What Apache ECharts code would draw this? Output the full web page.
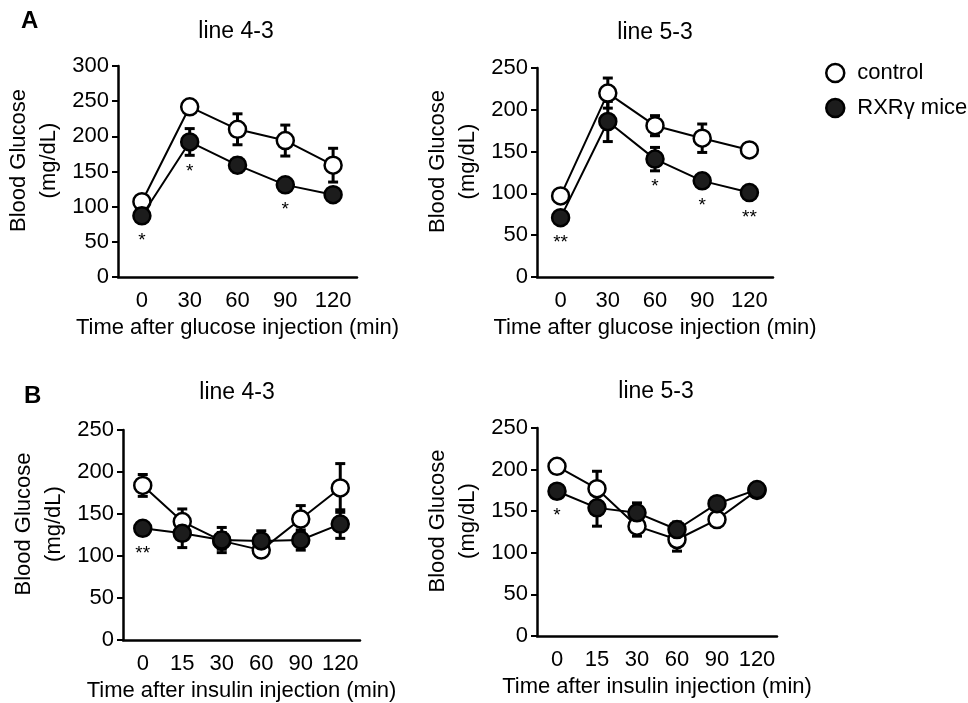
<!DOCTYPE html>
<html>
<head>
<meta charset="utf-8">
<script src="https://cdn.jsdelivr.net/npm/echarts@6/dist/echarts.min.js"></script>
<style>
    html, body { margin: 0; padding: 0; background: #fff; }
    #chart { width: 968px; height: 703px; }
</style>
</head>
<body>
<div id="chart"></div>
<script>
// time points
const glucoseTimes = ['0', '30', '60', '90', '120'];
const insulinTimes = ['0', '15', '30', '60', '90', '120'];

// A: glucose tolerance, line 4-3
const gttCtrl43 = [107, 242, 210, 194, 159];
const gttCtrl43Err = [6, 5, 22, 22, 24];
const gttRxr43 = [87, 192, 159, 131, 117];
const gttRxr43Err = [6, 19, 10, 8, 5];
const gttSig43 = ['*', '*', '', '*', ''];

// A: glucose tolerance, line 5-3
const gttCtrl53 = [97, 220, 181, 166, 152];
const gttCtrl53Err = [5, 18, 12, 17, 4];
const gttRxr53 = [71, 186, 141, 115, 101];
const gttRxr53Err = [6, 24, 14, 8, 5];
const gttSig53 = ['**', '', '*', '*', '**'];

// B: insulin tolerance, line 4-3
const ittCtrl43 = [184, 141, 118, 107, 144, 181];
const ittCtrl43Err = [13, 15, 10, 6, 16, 29];
const ittRxr43 = [133, 127, 119, 118, 119, 138];
const ittRxr43Err = [6, 17, 15, 12, 12, 17];
const ittSig43 = ['**', '', '', '', '', ''];

// B: insulin tolerance, line 5-3
const ittCtrl53 = [204, 177, 132, 116, 140, 175];
const ittCtrl53Err = [4, 21, 12, 14, 5, 5];
const ittRxr53 = [174, 154, 148, 128, 159, 176];
const ittRxr53Err = [6, 22, 12, 9, 7, 7];
const ittSig53 = ['*', '', '', '', '', ''];

const yTicks43 = 300;
const yTicksOther = 250;

const FONT = 'Liberation Sans';

const chart = echarts.init(document.getElementById('chart'));

const grids = [
    { left: 118, top: 66, width: 239, height: 211 },
    { left: 537, top: 68, width: 236, height: 209 },
    { left: 123, top: 430, width: 237, height: 210 },
    { left: 537, top: 428, width: 240, height: 208 }
];

const xNames = [
    'Time after glucose injection (min)',
    'Time after glucose injection (min)',
    'Time after insulin injection (min)',
    'Time after insulin injection (min)'
];
const xCats = [glucoseTimes, glucoseTimes, insulinTimes, insulinTimes];
const yMax = [yTicks43, yTicksOther, yTicksOther, yTicksOther];

const xAxes = grids.map((g, i) => ({
    type: 'category',
    gridIndex: i,
    data: xCats[i],
    boundaryGap: true,
    axisLine: { lineStyle: { color: '#000', width: 2.5 } },
    axisTick: { show: false },
    axisLabel: { color: '#000', fontSize: 22, fontFamily: FONT, margin: 13, interval: 0 },
    name: xNames[i],
    nameLocation: 'middle',
    nameGap: 40,
    nameTextStyle: { color: '#000', fontSize: 22, fontFamily: FONT }
}));

const yAxes = grids.map((g, i) => ({
    type: 'value',
    gridIndex: i,
    min: 0,
    max: yMax[i],
    interval: 50,
    splitLine: { show: false },
    axisLine: { show: true, lineStyle: { color: '#000', width: 2.5 } },
    axisTick: { show: true, length: 6, lineStyle: { color: '#000', width: 2 } },
    axisLabel: { color: '#000', fontSize: 22, fontFamily: FONT, margin: 9 },
    name: 'Blood Glucose\n(mg/dL)',
    nameLocation: 'middle',
    nameRotate: 90,
    nameGap: 54,
    nameTextStyle: {
        color: '#000', fontSize: 22, fontFamily: FONT, lineHeight: 30,
        padding: [0, 0, 0, 22]
    }
}));

function lineSeries(name, idx, values, filled) {
    return {
        type: 'line',
        name: name,
        xAxisIndex: idx,
        yAxisIndex: idx,
        data: values,
        symbol: 'circle',
        symbolSize: 17,
        showSymbol: true,
        silent: true,
        z: filled ? 5 : 4,
        lineStyle: { color: '#000', width: 2 },
        itemStyle: {
            color: filled ? '#1c1c1c' : '#fff',
            borderColor: '#000',
            borderWidth: 2.5,
            opacity: 1
        },
        emphasis: { disabled: true }
    };
}

function errorSeries(name, idx, values, errs) {
    return {
        type: 'custom',
        name: name,
        xAxisIndex: idx,
        yAxisIndex: idx,
        silent: true,
        z: 3,
        data: values.map((v, i) => [i, v, errs[i]]),
        renderItem: function (params, api) {
            const x = api.value(0), v = api.value(1), e = api.value(2);
            const top = api.coord([x, v + e]);
            const bot = api.coord([x, v - e]);
            const w = 5;
            const style = { stroke: '#000', lineWidth: 3 };
            return {
                type: 'group',
                children: [
                    { type: 'line', shape: { x1: top[0], y1: top[1], x2: bot[0], y2: bot[1] }, style: style },
                    { type: 'line', shape: { x1: top[0] - w, y1: top[1], x2: top[0] + w, y2: top[1] }, style: style },
                    { type: 'line', shape: { x1: bot[0] - w, y1: bot[1], x2: bot[0] + w, y2: bot[1] }, style: style }
                ]
            };
        }
    };
}

function sigSeries(idx, values, errs, marks) {
    return {
        type: 'custom',
        xAxisIndex: idx,
        yAxisIndex: idx,
        silent: true,
        z: 6,
        data: values.map((v, i) => [i, v, errs[i]]),
        renderItem: function (params, api) {
            const label = marks[params.dataIndex];
            if (!label) return null;
            const x = api.value(0), v = api.value(1), e = api.value(2);
            const c = api.coord([x, v]);
            const low = api.coord([x, v - e]);
            const y = Math.max(c[1] + 20, low[1] + 11) + 5;
            return {
                type: 'text',
                style: {
                    x: c[0], y: y, text: label,
                    align: 'center', verticalAlign: 'middle',
                    font: '19px "Liberation Sans"', fill: '#000'
                }
            };
        }
    };
}

const CTRL = 'control';
const RXR = 'RXRγ mice';

const series = [
    errorSeries(CTRL, 0, gttCtrl43, gttCtrl43Err),
    errorSeries(RXR, 0, gttRxr43, gttRxr43Err),
    lineSeries(CTRL, 0, gttCtrl43, false),
    lineSeries(RXR, 0, gttRxr43, true),
    sigSeries(0, gttRxr43, gttRxr43Err, gttSig43),

    errorSeries(CTRL, 1, gttCtrl53, gttCtrl53Err),
    errorSeries(RXR, 1, gttRxr53, gttRxr53Err),
    lineSeries(CTRL, 1, gttCtrl53, false),
    lineSeries(RXR, 1, gttRxr53, true),
    sigSeries(1, gttRxr53, gttRxr53Err, gttSig53),

    errorSeries(CTRL, 2, ittCtrl43, ittCtrl43Err),
    errorSeries(RXR, 2, ittRxr43, ittRxr43Err),
    lineSeries(CTRL, 2, ittCtrl43, false),
    lineSeries(RXR, 2, ittRxr43, true),
    sigSeries(2, ittRxr43, ittRxr43Err, ittSig43),

    errorSeries(CTRL, 3, ittCtrl53, ittCtrl53Err),
    errorSeries(RXR, 3, ittRxr53, ittRxr53Err),
    lineSeries(CTRL, 3, ittCtrl53, false),
    lineSeries(RXR, 3, ittRxr53, true),
    sigSeries(3, ittRxr53, ittRxr53Err, ittSig53)
];

const titleStyle = { color: '#000', fontSize: 23, fontWeight: 'normal', fontFamily: FONT };
const letterStyle = { color: '#000', fontSize: 24, fontWeight: 'bold', fontFamily: FONT };

const option = {
    animation: false,
    backgroundColor: '#fff',
    title: [
        { text: 'A', left: 21, top: 9, padding: 0, textStyle: letterStyle },
        { text: 'B', left: 24, top: 384, padding: 0, textStyle: letterStyle },
        { text: 'line 4-3', left: 236, top: 20, textAlign: 'center', padding: 0, textStyle: titleStyle },
        { text: 'line 5-3', left: 655, top: 21, textAlign: 'center', padding: 0, textStyle: titleStyle },
        { text: 'line 4-3', left: 237, top: 381, textAlign: 'center', padding: 0, textStyle: titleStyle },
        { text: 'line 5-3', left: 656, top: 380, textAlign: 'center', padding: 0, textStyle: titleStyle }
    ],
    legend: {
        orient: 'vertical',
        left: 825,
        top: 62,
        padding: 0,
        itemGap: 13,
        itemWidth: 18,
        itemHeight: 18,
        selectedMode: false,
        textStyle: { color: '#000', fontSize: 22, fontFamily: FONT, padding: [0, 0, 0, 8] },
        data: [
            { name: CTRL, icon: 'circle', itemStyle: { color: '#fff', borderColor: '#000', borderWidth: 2.5 } },
            { name: RXR, icon: 'circle', itemStyle: { color: '#1c1c1c', borderColor: '#000', borderWidth: 2.5 } }
        ]
    },
    grid: grids,
    xAxis: xAxes,
    yAxis: yAxes,
    series: series
};

chart.setOption(option);
</script>
</body>
</html>
